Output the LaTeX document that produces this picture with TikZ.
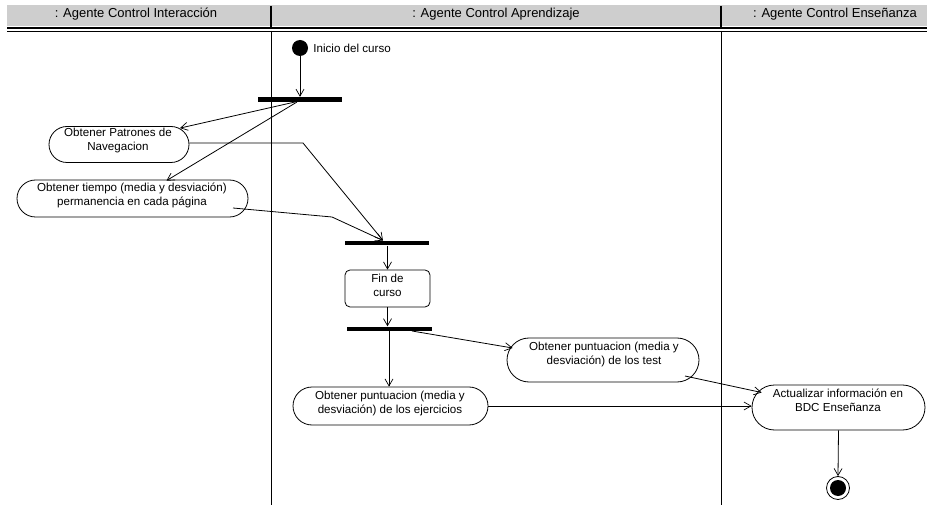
\documentclass[tikz,border=0pt]{standalone}
\usepackage{fontspec}
\setmainfont{Liberation Sans}
\usetikzlibrary{arrows.meta,shapes.misc}
\definecolor{hdrgray}{RGB}{206,206,206}
\begin{document}
\begin{tikzpicture}[x=1pt,y=-1pt,
  line width=0.8pt,
  flow/.style={draw=black,-{Straight Barb[length=7pt,width=8pt,line width=0.7pt]}},
  plain/.style={draw=black},
  activity/.style={draw=black,fill=white,rounded rectangle,inner sep=0pt,line width=0.8pt},
  statebox/.style={draw=black,fill=white,rounded corners=5pt,inner sep=0pt,line width=0.8pt},
  label/.style={font=\fontsize{11.6}{14.5}\selectfont,align=center,inner sep=0pt},
  lanehead/.style={font=\fontsize{13}{14}\selectfont,inner sep=0pt},
  syncbar/.style={fill=black,inner sep=0pt,minimum height=4.5pt},
  startdot/.style={circle,fill=black,inner sep=0pt,minimum size=16pt},
]
\useasboundingbox (0,0) rectangle (927,505);
\fill[white] (0,0) rectangle (927,505);

% swimlane header
\fill[hdrgray] (7,5) rectangle (927,26.5);
\fill[black] (7,27) rectangle (927,29.5);
\draw[line width=0.9pt] (7,31.2) -- (927,31.2);
\node[lanehead] (laneA) at (136,14.5) {: Agente Control Interacción};
\node[lanehead] (laneB) at (496,14.5) {: Agente Control Aprendizaje};
\node[lanehead] (laneC) at (835,14.5) {: Agente Control Enseñanza};
\draw[line width=1.1pt] (271,6) -- (271,27);
\draw[line width=1.1pt] (721,6) -- (721,27);
\draw[line width=1pt] (271,31) -- (271,505);
\draw[line width=1pt] (721,31) -- (721,505);

% start state
\node[startdot] (start) at (300,48) {};
\node[font=\fontsize{11.6}{14}\selectfont,anchor=west,inner sep=0pt] (startlbl) at (313,48) {Inicio del curso};

% synchronisation bars
\node[syncbar,minimum width=84pt] (bar1) at (300,99.5) {};
\node[syncbar,minimum width=84pt] (bar2) at (387,243) {};
\node[syncbar,minimum width=85pt] (bar3) at (389,329) {};

% activities
\node[activity,minimum width=140pt,minimum height=36pt] (pat) at (119,144.5) {};
\node[label] (patT) at (118,140.5) {Obtener Patrones de\\Navegacion};
\node[activity,minimum width=231pt,minimum height=37pt] (tiem) at (132.5,198.5) {};
\node[label] (tiemT) at (132,195.5) {Obtener tiempo (media y desviación)\\permanencia en cada página};
\node[statebox,minimum width=85pt,minimum height=37pt] (fin) at (387.5,288.5) {};
\node[label] (finT) at (387.5,285.5) {Fin de\\curso};
\node[activity,minimum width=192pt,minimum height=44pt] (test) at (603,360) {};
\node[label] (testT) at (604,354.5) {Obtener puntuacion (media y\\desviación) de los test};
\node[activity,minimum width=195pt,minimum height=38pt] (ejer) at (390.5,406) {};
\node[label] (ejerT) at (390,403.5) {Obtener puntuacion (media y\\desviación) de los ejercicios};
\node[activity,minimum width=173pt,minimum height=45pt] (act) at (838.5,407.5) {};
\node[label] (actT) at (838,400.5) {Actualizar información en\\BDC Enseñanza};

% end state
\node[circle,draw=black,line width=0.8pt,minimum size=23pt,inner sep=0pt] (end) at (838,488) {};
\fill[black] (end.center) circle (8pt);

% junction points on the bars and bends
\coordinate (f1a) at (295,102);
\coordinate (f1b) at (297,102);
\coordinate (patBend) at (303,143);
\coordinate (tiemOut) at (233,208);
\coordinate (tiemBend) at (332,217);
\coordinate (j2in) at (383,240.5);
\coordinate (f3a) at (389,331);
\coordinate (f3b) at (412,331);
\coordinate (testOut) at (685,376);

% transitions
\draw[flow] (start) -- (start |- bar1.north);
\draw[flow] (f1a) -- ([xshift=61pt,yshift=-2pt]pat.north);
\draw[flow] (f1b) -- ([xshift=34pt,yshift=-1pt]tiem.north);
\draw[flow] (pat.east |- patBend) -- (patBend) -- (j2in);
\draw[flow] (tiemOut) -- (tiemBend) -- (j2in);
\draw[flow] (fin.north |- bar2.south) -- (fin.north);
\draw[flow] (fin.south) -- (fin.south |- bar3.north);
\draw[flow] (f3a) -- (f3a |- ejer.north);
\draw[flow] (f3b) -- ([xshift=6pt,yshift=12pt]test.west);
\draw[flow] (testOut) -- ([xshift=10pt,yshift=15pt]act.west);
\draw[flow] (ejer.east) -- (ejer.east -| act.west);
\draw[flow] (act.south) -- (end.north);
\end{tikzpicture}
\end{document}
